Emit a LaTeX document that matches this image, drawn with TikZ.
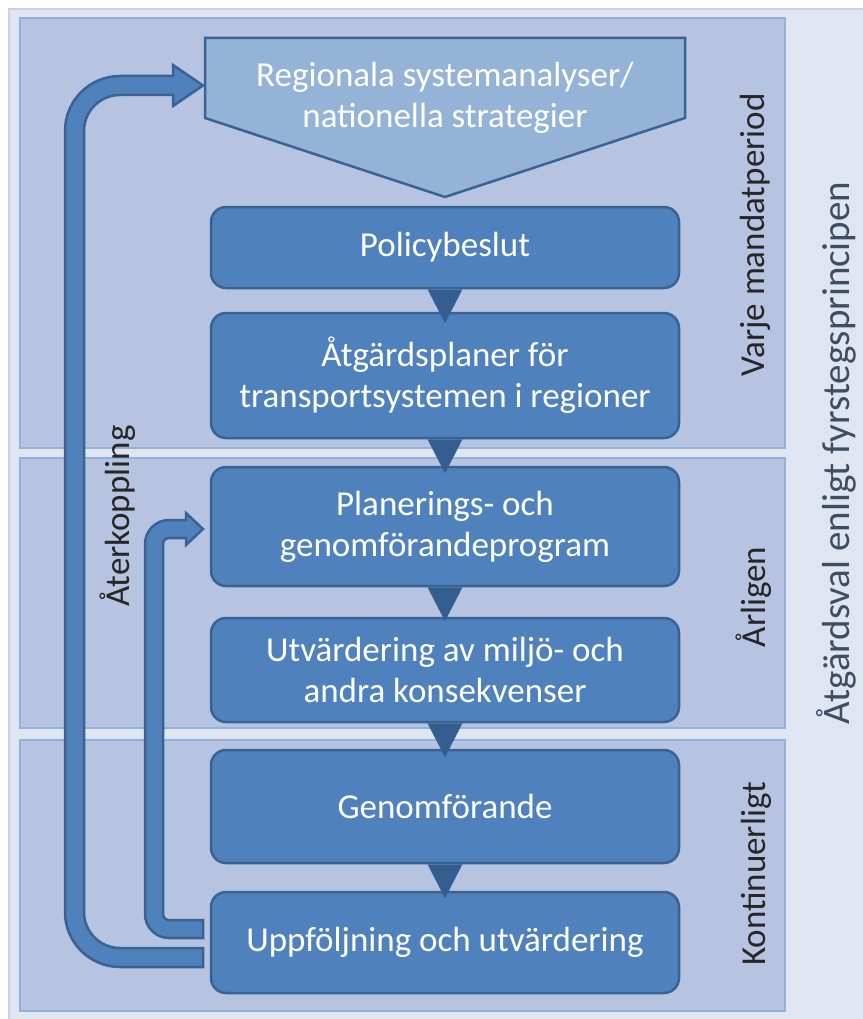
\documentclass[tikz,border=0pt]{standalone}
\usepackage{fontspec}
\setmainfont{Carlito}
\usetikzlibrary{calc}
\definecolor{outerbg}{HTML}{DFE5F1}
\definecolor{outerline}{HTML}{C9D0E2}
\definecolor{panelbg}{HTML}{B6C4E1}
\definecolor{panelline}{HTML}{93B1D8}
\definecolor{boxfill}{HTML}{4F81BD}
\definecolor{boxline}{HTML}{3A6293}
\definecolor{pentfill}{HTML}{95B3D7}
\definecolor{trifill}{HTML}{355E90}
\definecolor{lbltext}{HTML}{262626}
\definecolor{sidetext}{HTML}{3F4D63}
\begin{document}
\begin{tikzpicture}[x=1pt,y=-1pt,
  panel/.style={fill=panelbg, draw=panelline, line width=2},
  box/.style={rectangle, rounded corners=15, fill=boxfill, draw=boxline, line width=2.5,
    minimum width=468, inner sep=0, text=white, align=center,
    font=\fontsize{35}{41}\selectfont},
  pent/.style={fill=pentfill, draw=boxline, line width=2.5},
  tri/.style={fill=trifill},
  fb/.style={fill=boxfill, draw=boxline, line width=2.5, line join=miter},
  lbl/.style={rotate=90, anchor=base, text=lbltext, font=\fontsize{35}{41}\selectfont},
  side/.style={rotate=90, anchor=base, text=sidetext, font=\fontsize{39}{47}\selectfont}]
\useasboundingbox (0,0) rectangle (862,1019);
\fill[white] (0,0) rectangle (862,1019);
\draw[fill=outerbg, draw=outerline, line width=2] (9,9) rectangle (880,1040);
% panels
\draw[panel] (20,18) rectangle (785,448);
\draw[panel] (20,458) rectangle (785,728);
\draw[panel] (20,740) rectangle (785,1011);
% pentagon
\draw[pent] (205,38) -- (685,38) -- (685,118) -- (445,197) -- (205,118) -- cycle;
\node[text=white, align=center, font=\fontsize{35}{41}\selectfont] (reg) at (445,98)
  {Regionala systemanalyser/\\nationella strategier};
% boxes
\node[box, minimum height=81] (pol) at (445,247.5) {Policybeslut};
\node[box, minimum height=125] (atg) at (445,375.5) {Åtgärdsplaner för\\transportsystemen i regioner};
\node[box, minimum height=119] (plan) at (445,526.5) {Planerings- och\\genomförandeprogram};
\node[box, minimum height=104] (utv) at (445,670) {Utvärdering av miljö- och\\andra konsekvenser};
\node[box, minimum height=113] (gen) at (445,806.5) {Genomförande};
\node[box, minimum height=101] (upp) at (445,942.5) {Uppföljning och utvärdering};
% connector triangles
\foreach \a in {pol,atg,plan,utv,gen}
  \fill[tri] ($(\a.south)+(-17.5,0)$) -- ($(\a.south)+(17.5,0)$) -- ($(\a.south)+(0,34)$) -- cycle;
% feedback arrows
\draw[fb] (203,948) -- (120,948) arc[start angle=90,end angle=180,radius=36]
  -- (84,131) arc[start angle=180,end angle=270,radius=36]
  -- (173,95) -- (173,106) -- (203,85.5) -- (173,65) -- (173,76)
  -- (120,76) arc[start angle=270,end angle=180,radius=55]
  -- (65,912) arc[start angle=180,end angle=90,radius=55]
  -- (203,967) -- cycle;
\draw[fb] (203,920) -- (169,920) arc[start angle=90,end angle=180,radius=6]
  -- (163,544) arc[start angle=180,end angle=270,radius=6]
  -- (186,538) -- (186,545) -- (203,529) -- (186,513) -- (186,520)
  -- (169,520) arc[start angle=270,end angle=180,radius=24]
  -- (145,914) arc[start angle=180,end angle=90,radius=24]
  -- (203,938) -- cycle;
% labels
\node[lbl] (ater) at (129,516) {Återkoppling};
\node[lbl] (varje) at (764,235) {Varje mandatperiod};
\node[lbl] (arl) at (765,597) {Årligen};
\node[lbl] (kont) at (765,874) {Kontinuerligt};
\node[side] (fyr) at (849,453) {Åtgärdsval enligt fyrstegsprincipen};
\end{tikzpicture}
\end{document}
